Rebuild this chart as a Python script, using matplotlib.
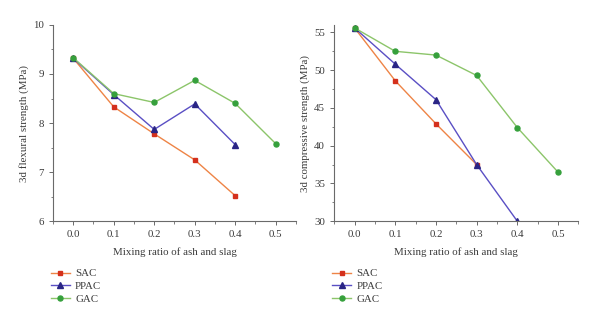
import matplotlib
matplotlib.use("Agg")
import matplotlib.pyplot as plt
from matplotlib.ticker import MultipleLocator

plt.rcParams['font.family'] = ['Liberation Serif', 'DejaVu Serif']

ratios = [0.0, 0.1, 0.2, 0.3, 0.4, 0.5]

# 3d flexural strength (MPa)
flex_sac = [9.32, 8.33, 7.78, 7.25, 6.52]
flex_ppac = [9.32, 8.58, 7.87, 8.39, 7.56]
flex_gac = [9.33, 8.60, 8.42, 8.87, 8.40, 7.58]

# 3d compressive strength (MPa)
comp_sac = [55.6, 48.6, 42.9, 37.5]
comp_ppac = [55.6, 50.8, 46.1, 37.5, 30.0]
comp_gac = [55.6, 52.5, 52.0, 49.3, 42.4, 36.5]

series_names = ["SAC", "PPAC", "GAC"]
line_colors = ["#ee8446", "#5a4fc4", "#8cc56a"]
marker_colors = ["#d4301c", "#2a2585", "#36a03c"]
markers = ["s", "^", "o"]
msizes = [3.0, 3.9, 3.6]

fig = plt.figure(figsize=(6.0, 3.23), dpi=100)
ax1 = fig.add_axes([0.0883, 0.315, 0.405, 0.608])
ax2 = fig.add_axes([0.557, 0.315, 0.407, 0.608])

text_color = "#3a3a3a"
spine_color = "#6a6a6a"
fs = 7.8


def draw(ax, data, ylim, ymajor, ylabel):
    handles = []
    for vals, name, lc, mc, mk, ms in zip(data, series_names, line_colors,
                                          marker_colors, markers, msizes):
        h, = ax.plot(ratios[:len(vals)], vals, color=lc, lw=1.0, marker=mk,
                     markersize=ms, markerfacecolor=mc, markeredgecolor=mc,
                     label=name)
        handles.append(h)
    ax.set_xlim(-0.05, 0.55)
    ax.set_ylim(*ylim)
    ax.xaxis.set_major_locator(MultipleLocator(0.1))
    ax.xaxis.set_minor_locator(MultipleLocator(0.05))
    ax.yaxis.set_major_locator(MultipleLocator(ymajor))
    ax.yaxis.set_minor_locator(MultipleLocator(ymajor / 2))
    ax.xaxis.set_major_formatter(plt.FuncFormatter(lambda v, p: f"{v:.1f}"))
    for s in ("top", "right"):
        ax.spines[s].set_visible(False)
    for s in ("left", "bottom"):
        ax.spines[s].set_color(spine_color)
        ax.spines[s].set_linewidth(0.8)
    ax.tick_params(which="major", direction="out", length=3, width=0.7,
                   colors=spine_color, labelcolor=text_color, labelsize=fs)
    ax.tick_params(which="minor", direction="out", length=1.8, width=0.6,
                   colors=spine_color)
    ax.set_xlabel("Mixing ratio of ash and slag", fontsize=fs,
                  color=text_color, labelpad=6)
    ax.set_ylabel(ylabel, fontsize=fs, color=text_color, labelpad=3)
    ax.legend(handles=handles, loc="upper left", bbox_to_anchor=(-0.025, -0.22),
              frameon=False, fontsize=fs, handlelength=1.7, handletextpad=0.5,
              labelspacing=0.3, labelcolor=text_color, borderaxespad=0)


draw(ax1, [flex_sac, flex_ppac, flex_gac], (6, 10), 1,
     "3d flexural strength (MPa)")
draw(ax2, [comp_sac, comp_ppac, comp_gac], (30, 56), 5,
     "3d compressive strength (MPa)")

fig.savefig("out.png", dpi=100)
